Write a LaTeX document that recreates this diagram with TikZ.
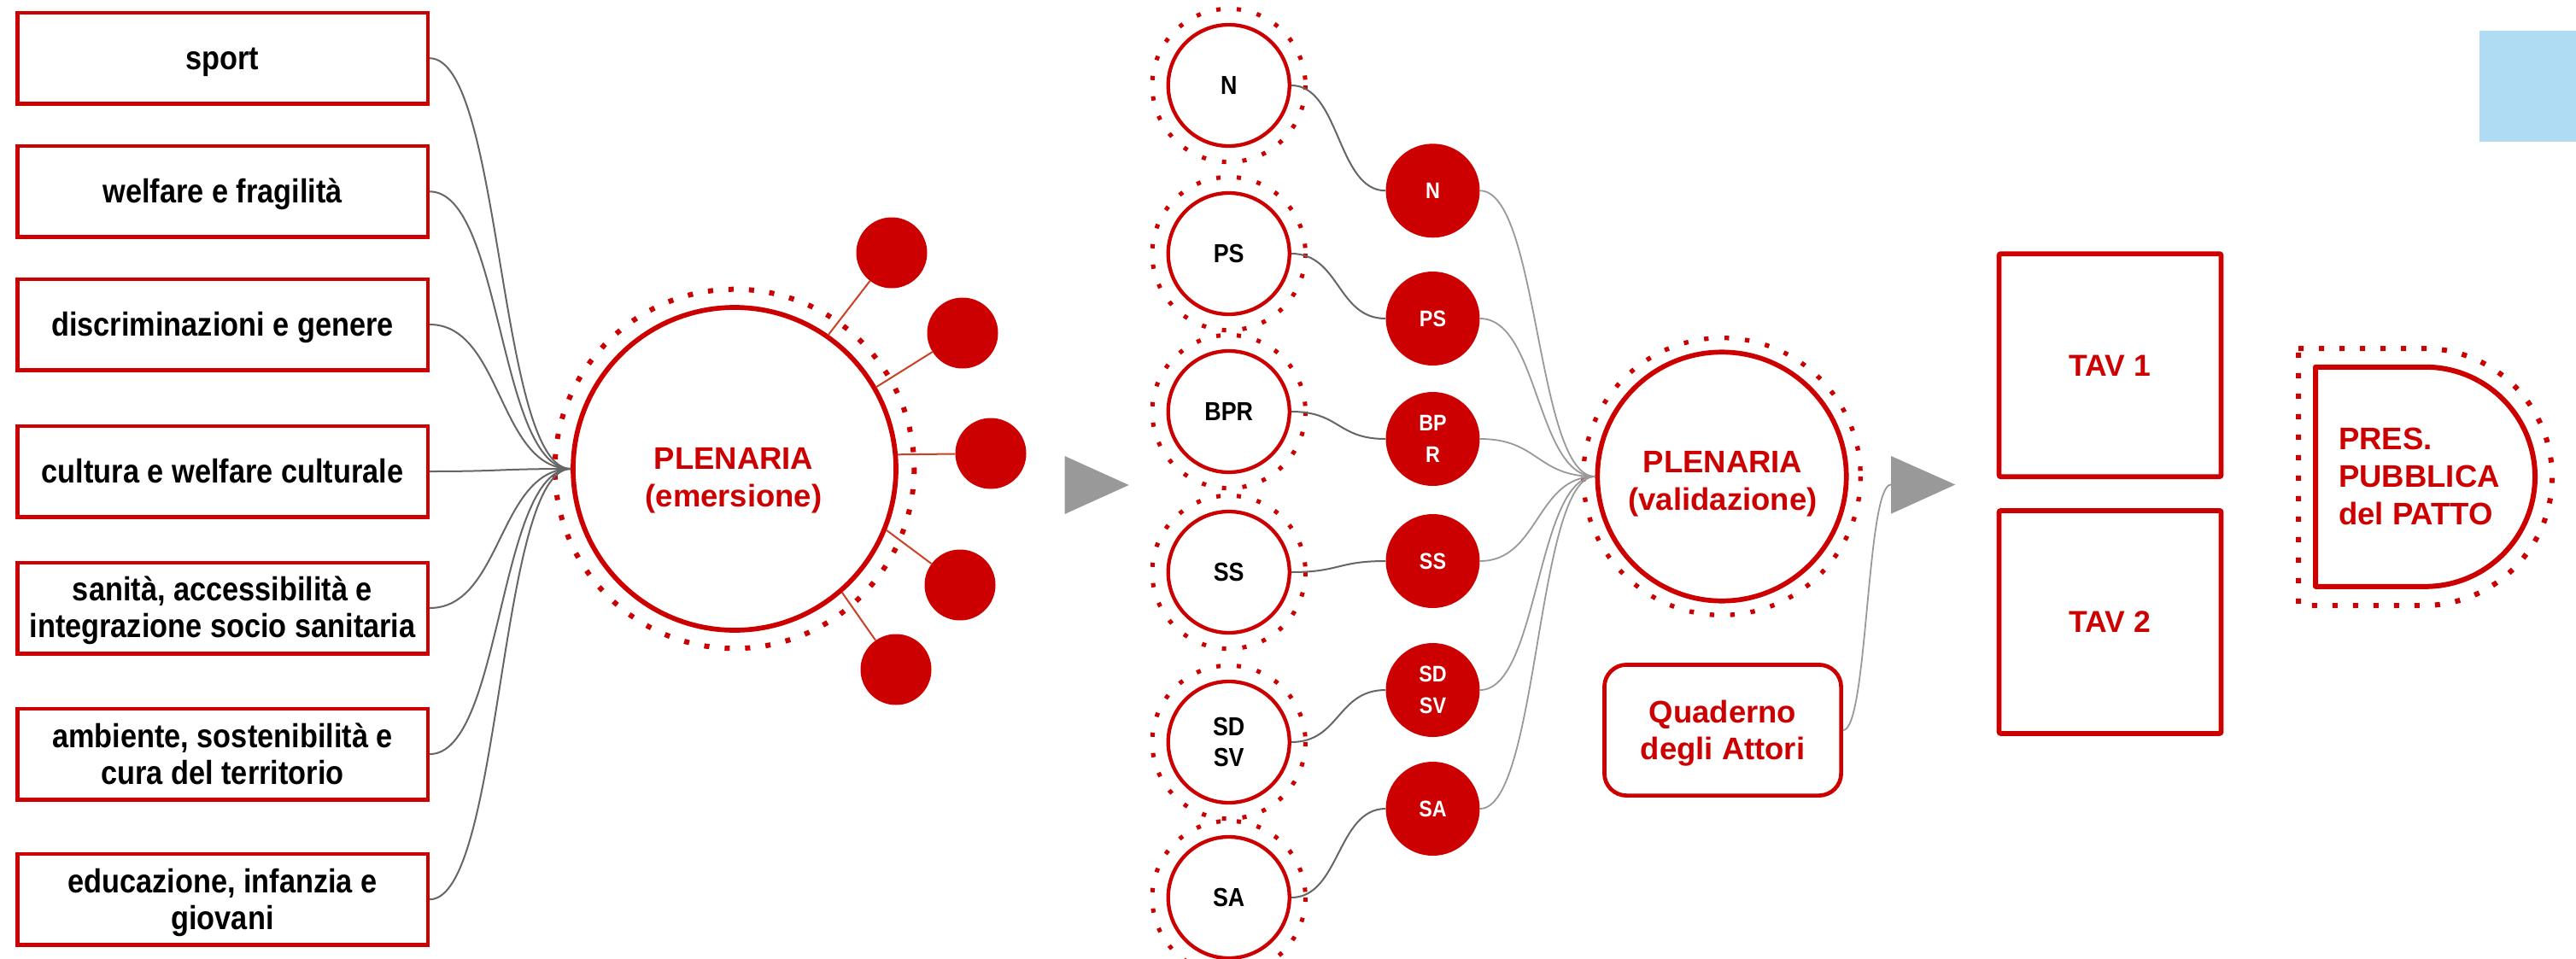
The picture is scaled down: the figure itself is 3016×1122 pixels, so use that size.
\documentclass[tikz,border=0pt]{standalone}
\usepackage{fontspec}
\setmainfont{Liberation Sans}
\newfontfamily\rob{Liberation Sans}[FakeStretch=0.88]
\newfontfamily\ari{Liberation Sans}
\definecolor{myred}{HTML}{CC0000}
\definecolor{gA}{HTML}{666666}
\definecolor{gB}{HTML}{999999}
\definecolor{satcol}{HTML}{CC4125}
\definecolor{lblue}{HTML}{AFDCF3}
\newcommand\stt{\vrule width0pt height0.9em depth0.2em\relax}
\begin{document}
\begin{tikzpicture}[x=1pt,y=-1pt,
  topic/.style={draw=myred, line width=4.5pt, minimum width=480.5pt, minimum height=106.5pt,
    inner sep=0pt, align=center, text=black, font=\rob\bfseries\fontsize{39}{43}\selectfont},
  wc/.style={circle, draw=myred, line width=4.3pt, fill=white, minimum size=142pt, inner sep=0pt,
    align=center, text=black, font=\rob\bfseries\fontsize{30.5}{36}\selectfont},
  rc/.style={circle, fill=myred, minimum size=110pt, inner sep=0pt, align=center, text=white,
    font=\rob\bfseries\fontsize{26.5}{37}\selectfont},
  sat/.style={circle, fill=myred, minimum size=83pt, inner sep=0pt},
  smallring/.style={draw=myred, line width=5pt, dash pattern=on 5pt off 19pt},
  bigring/.style={draw=myred, line width=6pt, dash pattern=on 6pt off 18pt},
  plen/.style={circle, draw=myred, line width=5.7pt, inner sep=0pt},
  redtxt/.style={text=myred, align=center, inner sep=0pt, font=\ari\bfseries\fontsize{36.5}{44}\selectfont},
  tav/.style={draw=myred, line width=5.7pt, minimum width=260pt, minimum height=261pt, rounded corners=2pt,
    inner sep=0pt, text=myred, font=\ari\bfseries\fontsize{35.5}{42}\selectfont},
  conn/.style={draw=gA, line width=2pt},
  connb/.style={draw=gB, line width=1.8pt},
  satline/.style={draw=satcol, line width=2pt}
]
\useasboundingbox (0,0) rectangle (3016,1122);
\fill[white] (0,0) rectangle (3016,1122);

% light blue rectangle
\fill[lblue] (2903,36) rectangle (3016,166);

% left topic boxes
\node[topic] (b1) at (260.5,68.2) {\stt sport};
\node[topic] (b2) at (260.5,224.3) {\stt welfare e fragilità};
\node[topic] (b3) at (260.5,380) {\stt discriminazioni e genere};
\node[topic] (b4) at (260.5,552) {\stt cultura e welfare culturale};
\node[topic] (b5) at (260.5,712) {\stt sanità, accessibilità e\\\stt integrazione socio sanitaria};
\node[topic] (b6) at (260.5,883.1) {\stt ambiente, sostenibilità e\\\stt cura del territorio};
\node[topic] (b7) at (260.5,1053.2) {\stt educazione, infanzia e\\\stt giovani};

% plenaria emersione
\node[plen, minimum size=378pt] (E) at (860,549) {};
\draw[bigring] (E.center) circle[radius=210.3];
\node[redtxt] (Etxt) at (859,559.2) {\stt PLENARIA\\\stt(emersione)};

% satellites
\node[sat] (s1) at (1044,296) {};
\node[sat] (s2) at (1127,390) {};
\node[sat] (s3) at (1160,531) {};
\node[sat] (s4) at (1124,685) {};
\node[sat] (s5) at (1049,784) {};
\draw[satline] (E.55.7) -- (s1);
\draw[satline] (E.30.7) -- (s2);
\draw[satline] (E.5.3) -- (s3);
\draw[satline] (E.-22.9) -- (s4);
\draw[satline] (E.-49.8) -- (s5);

% connectors from topics
\foreach \b in {b1,b2,b3,b4,b5,b6,b7}
  \draw[conn] (\b.east) .. controls +(85,0) and +(-85,0) .. (E.west);

% arrow 1
\fill[gB] (1246.5,534) -- (1321.7,568) -- (1246.5,602) -- cycle;

% white circles
\node[wc] (w1) at (1438.7,100) {\stt N};
\node[wc] (w2) at (1438.7,297) {\stt PS};
\node[wc] (w3) at (1438.7,482) {\stt BPR};
\node[wc] (w4) at (1438.7,670) {\stt SS};
\node[wc] (w5) at (1438.7,869) {\stt SD\\\stt SV};
\node[wc] (w6) at (1438.7,1051) {\stt SA};
\foreach \w in {w1,w2,w3,w4,w5,w6}
  \draw[smallring] (\w.center) circle[radius=89.7];

% red circles
\node[rc] (r1) at (1677.5,223.3) {\stt N};
\node[rc] (r2) at (1677.5,373) {\stt PS};
\node[rc] (r3) at (1677.5,514) {\stt BP\\\stt R};
\node[rc] (r4) at (1677.5,657) {\stt SS};
\node[rc] (r5) at (1677.5,808) {\stt SD\\\stt SV};
\node[rc] (r6) at (1677.5,947) {\stt SA};

\foreach \i in {1,...,6}
  \draw[conn] (w\i.east) .. controls +(57,0) and +(-57,0) .. (r\i.west);

% plenaria validazione
\node[plen, minimum size=291.4pt] (V) at (2016,558) {};
\draw[draw=myred, line width=5.3pt, dash pattern=on 5.3pt off 18.7pt] (V.center) circle[radius=162.3];
\node[redtxt] (Vtxt) at (2017,563.2) {\stt PLENARIA\\\stt(validazione)};

\foreach \i in {1,...,6}
  \draw[connb] (r\i.east) .. controls +(69,0) and +(-69,0) .. (V.west);

% quaderno
\node[draw=myred, line width=4.7pt, rounded corners=26pt, minimum width=277.2pt, minimum height=153.2pt,
  inner sep=0pt, text=myred, align=center, font=\ari\bfseries\fontsize{36.5}{43}\selectfont]
  (Q) at (2017,855) {\stt Quaderno\\\stt degli Attori};

% arrow 2
\fill[gB] (2214,534) -- (2289.3,567.5) -- (2214,601.7) -- cycle;
\coordinate (a2w) at (2214,567.5);
\draw[connb] (Q.east) .. controls +(29,0) and +(-29,0) .. (a2w);

% TAV boxes
\node[tav] (t1) at (2470.5,427.7) {\stt TAV 1};
\node[tav] (t2) at (2470.5,728.4) {\stt TAV 2};

% PRES shape
\draw[draw=myred, line width=6pt, dash pattern=on 6pt off 18pt]
  (2691,408) -- (2837.5,408) arc[start angle=-90, end angle=90, radius=150.5] -- (2691,709) -- cycle;
\draw[draw=myred, line width=6pt, line join=round]
  (2711,429.8) -- (2839.5,429.8) arc[start angle=-90, end angle=90, radius=128.5] -- (2711,686.8) -- cycle;
\node[redtxt, align=left, anchor=west] (pres) at (2738,558.2) {\stt PRES.\\\stt PUBBLICA\\\stt del PATTO};
\end{tikzpicture}
\end{document}
